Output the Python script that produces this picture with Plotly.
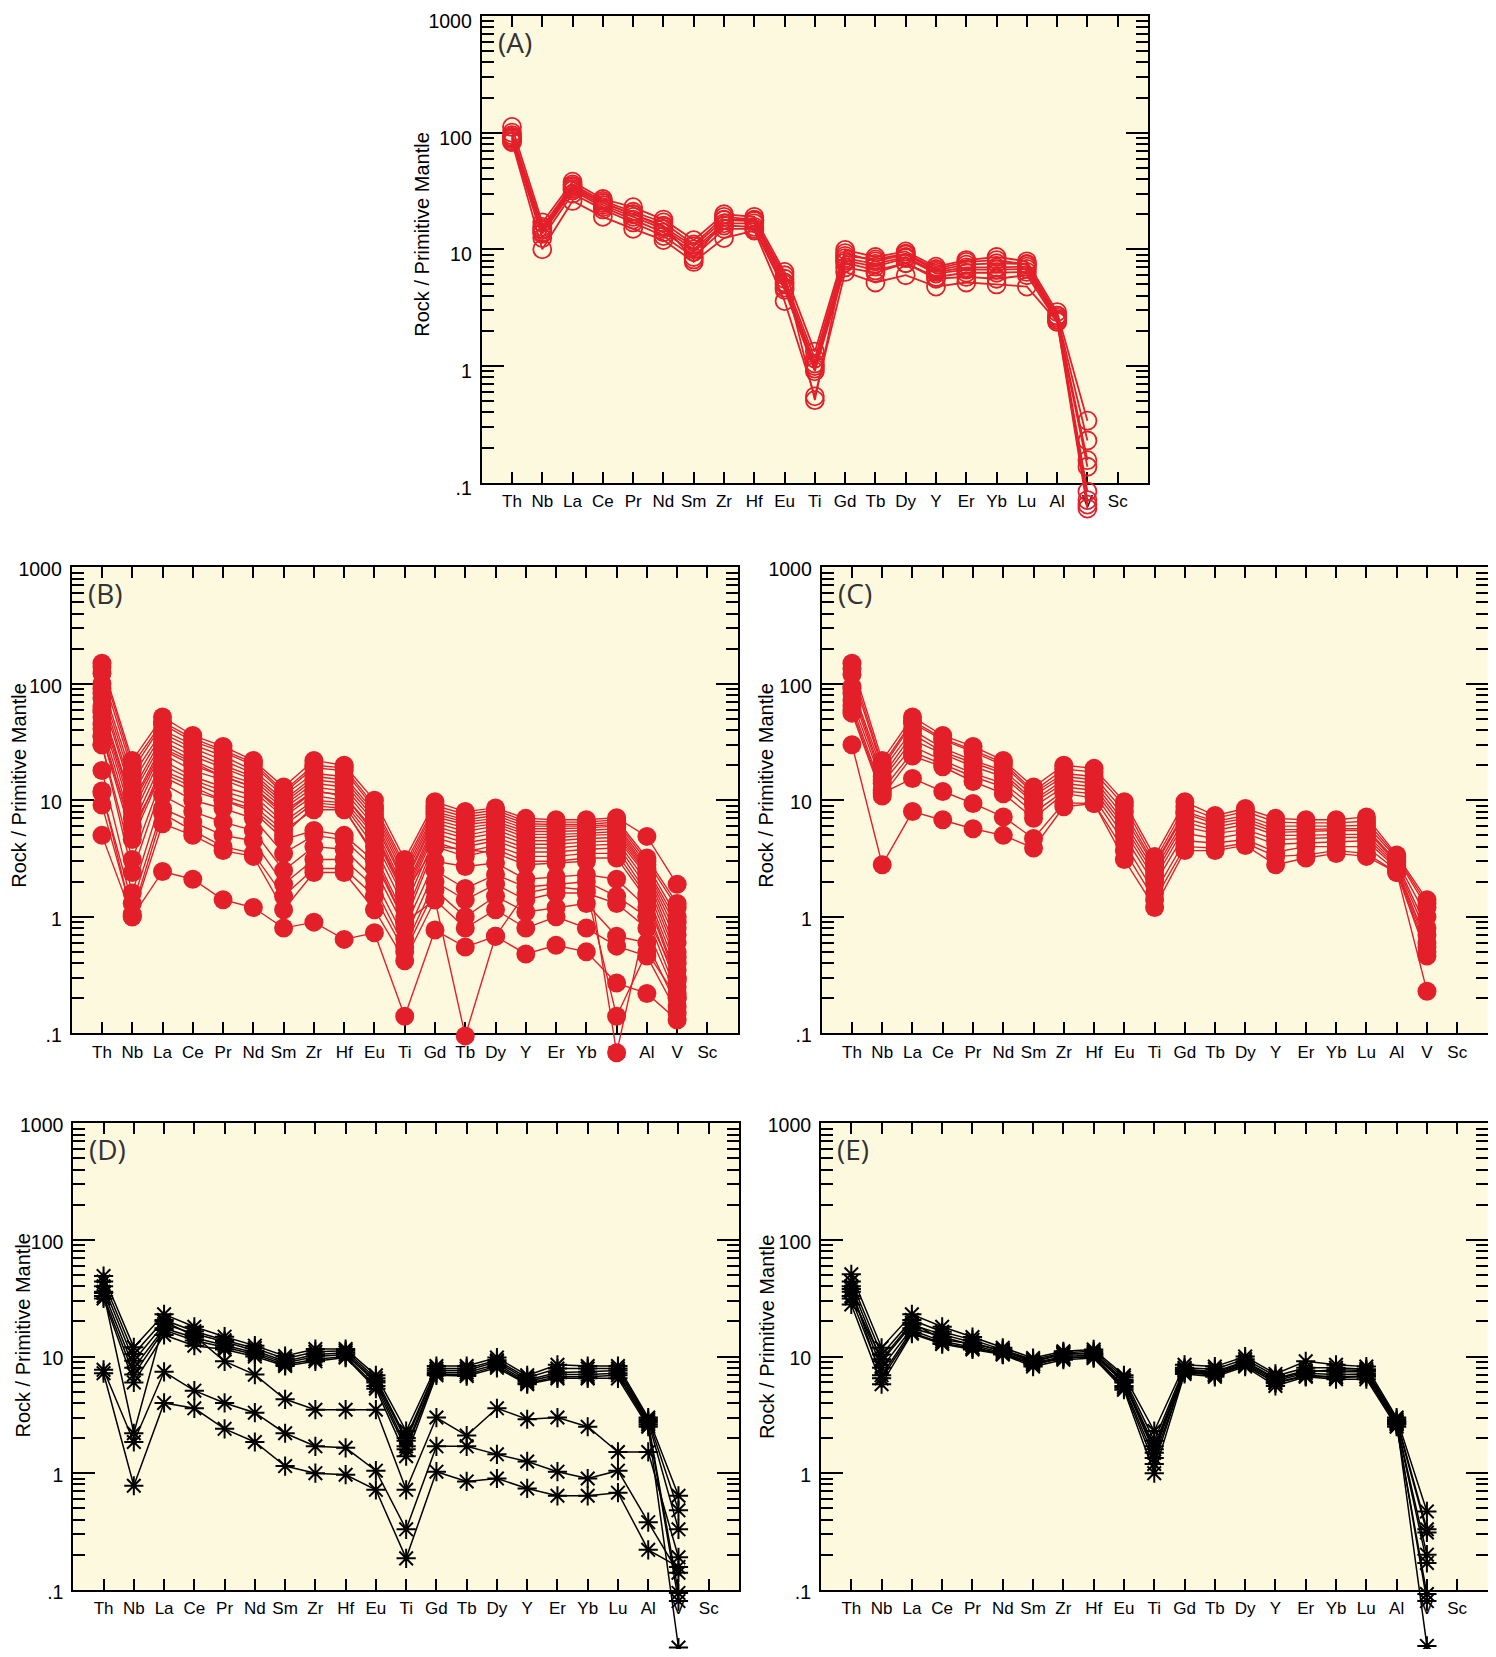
import plotly.graph_objects as go

# ---------------- data ----------------
elements = ["Th", "Nb", "La", "Ce", "Pr", "Nd", "Sm", "Zr", "Hf", "Eu", "Ti",
            "Gd", "Tb", "Dy", "Y", "Er", "Yb", "Lu", "Al", "V", "Sc"]
ytick_vals = [0.1, 1, 10, 100, 1000]
ytick_text = [".1", "1", "10", "100", "1000"]
y_title = "Rock / Primitive Mantle"
panel_labels = ["(A)", "(B)", "(C)", "(D)", "(E)"]

# values Th .. V (Sc not analysed)
panel_A = [
    [112, 17, 38, 27, 23, 18, 12, 20, 19, 6.4, 1.33, 9.9, 8.6, 9.6, 7.1, 8.1, 8.6, 7.9, 2.9, 0.34],
    [100, 15.6, 36, 26, 21, 17, 11, 19, 18, 5.6, 1.16, 9.3, 7.9, 9.0, 6.6, 7.4, 7.6, 7.5, 2.7, 0.23],
    [95, 14.6, 34, 25, 20, 15.6, 10.6, 17.8, 17.5, 5.2, 1.05, 8.4, 7.5, 8.6, 6.4, 7.0, 7.0, 7.1, 2.6, 0.156],
    [92, 14, 33, 24, 19, 15, 10, 16.7, 16.7, 5.0, 1.0, 8.0, 7.1, 8.4, 6.2, 6.7, 6.7, 6.8, 2.5, 0.137],
    [88, 13.6, 32, 23, 18, 14, 9.5, 16, 15.6, 4.7, 0.95, 7.7, 6.6, 7.6, 5.8, 6.3, 6.3, 6.4, 2.5, 0.084],
    [85, 12.5, 30, 22, 17, 13, 8.6, 15, 15, 4.5, 0.9, 7.0, 6.3, 7.6, 5.6, 5.8, 5.6, 6.0, 2.4, 0.071],
    [83, 10, 26, 19, 15, 12, 7.8, 12.5, 14.5, 3.6, 0.55, 6.4, 5.2, 6.0, 4.8, 5.2, 5.0, 4.8, 2.4, 0.06],
    [90, 15, 35, 25, 20, 16, 8.2, 18, 17.8, 6.0, 0.51, 8.8, 8.2, 9.2, 6.8, 7.8, 8.1, 7.4, 2.7, 0.065],
]

panel_B = [
    [150, 22, 52, 36, 29, 22, 13, 22, 20, 10, 3.1, 9.7, 8.0, 8.6, 7.0, 6.8, 6.8, 7.1, 4.9, 1.9],
    [140, 20, 47, 34, 27, 21, 12, 20, 19, 9.0, 2.8, 9.0, 7.6, 8.2, 6.6, 6.5, 6.5, 6.8, 3.2, 1.3],
    [123, 18, 45, 32, 26, 20, 11.5, 19, 18, 8.5, 2.6, 8.5, 7.2, 7.8, 6.3, 6.2, 6.2, 6.5, 3.0, 1.2],
    [100, 16, 40, 30, 24, 18, 11, 17, 16, 8.0, 2.4, 8.0, 6.8, 7.4, 6.0, 6.0, 6.0, 6.2, 2.8, 1.0],
    [91, 14, 37.5, 28, 22, 17, 10, 16, 15, 7.5, 2.2, 7.6, 6.5, 7.0, 5.7, 5.7, 5.8, 6.0, 2.6, 0.9],
    [83, 12, 35, 26, 20, 16, 9.5, 15, 14, 7.0, 2.0, 7.2, 6.2, 6.6, 5.4, 5.4, 5.5, 5.7, 2.5, 0.8],
    [75, 11, 32, 24, 19, 15, 9.0, 14, 13, 6.5, 1.9, 6.8, 5.8, 6.3, 5.1, 5.1, 5.2, 5.4, 2.4, 0.7],
    [64, 9.5, 30, 22, 17, 14, 8.5, 13, 12, 6.0, 1.7, 6.4, 5.4, 6.0, 4.8, 4.8, 5.0, 5.1, 2.3, 0.6],
    [57, 8, 27, 20, 16, 13, 8.0, 12, 11, 5.5, 1.6, 6.0, 5.0, 5.6, 4.5, 4.5, 4.7, 4.8, 2.2, 0.5],
    [52, 7, 25, 18, 15, 12, 7.2, 11, 10, 5.0, 1.5, 5.6, 4.7, 5.2, 4.2, 4.2, 4.4, 4.5, 2.0, 0.45],
    [45, 6, 22, 16, 13, 11, 6.5, 10, 9.5, 4.5, 1.4, 5.2, 4.3, 4.8, 3.9, 3.9, 4.1, 4.2, 1.8, 0.4],
    [41, 5, 20, 15, 12, 10, 6.0, 9.5, 9.0, 4.0, 1.2, 4.8, 4.0, 4.5, 3.6, 3.6, 3.8, 3.9, 1.6, 0.35],
    [36, 4.6, 18, 14, 11, 9, 5.5, 8.3, 8.3, 3.5, 1.0, 4.4, 3.6, 4.1, 3.3, 3.3, 3.5, 3.5, 1.5, 0.3],
    [30, 3.1, 16, 12, 10, 8, 4.6, 5.5, 5.0, 3.0, 0.9, 4.0, 3.3, 3.8, 3.0, 3.0, 3.2, 3.2, 1.4, 0.28],
    [30, 2.4, 14, 10, 8.5, 7, 3.5, 5.0, 4.6, 2.6, 0.8, 3.0, 2.7, 2.9, 2.1, 2.2, 2.3, 2.1, 1.2, 0.25],
    [18, 1.6, 11, 8, 6.5, 5.5, 2.5, 4.0, 3.8, 2.1, 0.65, 2.5, 1.75, 2.3, 1.8, 1.9, 2.0, 1.5, 1.0, 0.22],
    [11.6, 1.3, 8.5, 6.5, 5, 4.5, 1.9, 3.1, 3.1, 1.8, 0.55, 2.0, 1.4, 1.9, 1.4, 1.6, 1.6, 1.3, 0.8, 0.2],
    [9.1, 1.05, 7.7, 5.5, 4, 3.5, 1.5, 2.6, 2.6, 1.5, 0.5, 1.7, 1.0, 1.5, 1.1, 1.2, 1.3, 0.68, 0.6, 0.17],
    [12, 1.0, 6.3, 5, 3.7, 3.3, 1.15, 2.4, 2.4, 1.15, 0.42, 1.4, 0.8, 1.15, 0.8, 1.0, 0.8, 0.56, 0.46, 0.15],
    [5, 1.0, 2.45, 2.1, 1.4, 1.2, 0.8, 0.9, 0.64, 0.73, 0.14, 0.77, 0.55, 0.68, 0.48, 0.57, 0.5, 0.27, 0.22, 0.13],
    [35, 5.9, 17, 13, 10, 8.5, 5, 9, 8.5, 3.3, 0.9, 1.4, 0.095, 0.68, 1.6, 1.8, 1.7, 0.14, 0.5, 0.2],
    [60, 9, 28, 21, 16, 13, 7.5, 12, 11, 5.2, 1.6, 4.0, 3.8, 3.5, 2.8, 2.9, 3.0, 0.068, 1.0, 0.3],
]

panel_C = [
    [150, 22, 52, 36, 29, 22, 13, 20, 18.8, 9.7, 3.3, 9.7, 7.4, 8.5, 7.0, 6.8, 6.8, 7.2, 3.4, 1.4],
    [135, 20, 48, 34, 27, 21, 12, 18.5, 17.5, 9.0, 3.0, 8.8, 7.0, 8.0, 6.5, 6.4, 6.4, 6.6, 3.3, 1.3],
    [120, 19, 46, 33, 26, 20, 11.5, 17, 16, 8.0, 2.8, 8.0, 6.6, 7.4, 6.0, 6.0, 6.0, 6.1, 3.2, 1.2],
    [95, 18, 40, 28, 22, 18, 10.9, 16, 15, 7.2, 2.7, 7.7, 6.3, 7.0, 5.6, 5.6, 5.7, 5.7, 3.0, 1.0],
    [91, 16, 37, 26, 21, 17, 10, 15, 14, 6.5, 2.5, 7.0, 5.9, 6.6, 5.3, 5.4, 5.5, 5.5, 2.9, 0.8],
    [83, 15, 33, 25, 19.5, 16, 9.5, 14, 13, 6.0, 2.3, 6.5, 5.5, 6.2, 5.0, 5.0, 5.1, 5.1, 2.8, 0.7],
    [72, 14, 29, 22, 17, 14, 8.8, 13, 12.2, 5.5, 2.1, 5.9, 5.2, 5.6, 4.6, 4.7, 4.8, 4.8, 2.7, 0.6],
    [65, 12.2, 26, 20.5, 16, 13, 7.8, 12, 11.4, 4.9, 1.9, 5.2, 4.7, 5.2, 4.2, 4.3, 4.4, 4.5, 2.6, 0.55],
    [56, 10.9, 24, 19.4, 14.5, 11.4, 7.0, 11.4, 10.5, 4.3, 1.6, 4.5, 4.3, 4.6, 3.6, 4.0, 4.0, 4.0, 2.5, 0.5],
    [60, 11.5, 15.4, 11.9, 9.4, 7.2, 4.7, 9.5, 9.4, 3.7, 1.4, 4.0, 3.9, 4.3, 3.3, 3.4, 3.7, 3.5, 2.4, 0.46],
    [30, 2.8, 8.0, 6.8, 5.7, 5.0, 3.9, 8.8, 9.4, 3.1, 1.2, 3.7, 3.7, 4.1, 2.8, 3.2, 3.5, 3.3, 2.4, 0.23],
]

panel_D = [
    [49, 12, 23, 18, 14.8, 12.4, 10.1, 11.6, 11.6, 6.9, 2.3, 8.3, 8.3, 9.8, 6.9, 8.5, 8.3, 8.3, 3.0, 0.64],
    [44, 10.5, 20.6, 16.5, 13.8, 11.8, 9.6, 11.0, 11.2, 6.5, 2.0, 7.9, 7.9, 9.3, 6.6, 7.9, 7.9, 7.9, 2.9, 0.48],
    [40, 9.2, 19, 15.7, 13.4, 11.2, 9.1, 10.4, 10.8, 6.2, 1.9, 7.6, 7.6, 9.0, 6.3, 7.3, 7.4, 7.6, 2.8, 0.33],
    [36, 8, 17.5, 14.5, 12.5, 10.8, 8.8, 10.0, 10.4, 6.0, 1.7, 7.3, 7.3, 8.6, 6.1, 7.0, 7.0, 7.2, 2.7, 0.094],
    [33, 7, 16.9, 13.7, 12.0, 10.4, 8.5, 9.5, 10.0, 5.6, 1.6, 7.1, 7.0, 8.3, 5.9, 6.7, 6.7, 6.9, 2.6, 0.08],
    [31.5, 6, 15.3, 12.4, 11.5, 10.0, 8.3, 9.1, 9.8, 5.3, 1.4, 6.9, 6.8, 8.0, 5.8, 6.5, 6.5, 6.5, 2.5, 0.032],
    [35, 2.2, 20, 15, 9.1, 7.0, 4.3, 3.5, 3.5, 3.5, 0.72, 3.0, 2.1, 3.6, 2.9, 3.0, 2.5, 1.52, 1.52, 0.19],
    [7.7, 1.85, 7.4, 5.1, 4.0, 3.3, 2.2, 1.7, 1.65, 1.05, 0.33, 1.7, 1.7, 1.45, 1.26, 1.03, 0.9, 1.05, 0.38, 0.14],
    [7.2, 0.78, 4.0, 3.6, 2.4, 1.85, 1.15, 1.0, 0.97, 0.72, 0.186, 1.03, 0.85, 0.9, 0.74, 0.64, 0.64, 0.68, 0.22, 0.157],
]

panel_E = [
    [50.8, 11.9, 23, 18, 14.7, 11.9, 9.7, 11.1, 11.5, 6.9, 2.3, 8.5, 8.2, 10, 7.1, 9.1, 8.5, 8.2, 3.0, 0.47],
    [44, 10.4, 20.6, 16.3, 13.9, 11.5, 9.4, 10.8, 11.1, 6.6, 1.9, 8.0, 7.8, 9.5, 6.8, 8.0, 8.0, 7.8, 2.9, 0.33],
    [40, 9.1, 18.7, 15.5, 13.2, 11.1, 9.1, 10.4, 10.7, 6.3, 1.7, 7.8, 7.4, 9.1, 6.5, 7.6, 7.4, 7.4, 2.8, 0.31],
    [36, 8, 17.5, 14.7, 12.5, 10.8, 8.8, 10.0, 10.3, 6.0, 1.5, 7.6, 7.1, 8.7, 6.2, 7.2, 7.0, 7.1, 2.7, 0.2],
    [31.5, 6.9, 16.8, 13.5, 12.0, 10.6, 8.5, 9.7, 10.0, 5.6, 1.35, 7.3, 6.9, 8.4, 6.0, 6.9, 6.7, 6.8, 2.65, 0.17],
    [28, 5.8, 15.7, 12.8, 11.5, 10.4, 8.2, 9.4, 9.7, 5.2, 1.0, 7.1, 6.7, 8.2, 5.6, 6.7, 6.4, 6.4, 2.5, 0.092],
    [38, 6.5, 16, 13, 11.8, 10.5, 8.6, 9.8, 9.9, 5.4, 1.2, 7.4, 7.0, 8.5, 5.9, 6.8, 6.6, 6.7, 2.6, 0.08],
    [33, 9.5, 19.5, 14, 12.8, 11.3, 9.0, 10.6, 10.5, 6.1, 1.6, 7.7, 7.3, 8.9, 6.4, 7.4, 7.7, 7.6, 2.75, 0.033],
]

# ---------------- style ----------------
RED = "#E3202A"
BG = "#FDF9DE"
OFF = 8                     # default page body margin
W, H = 1496 - 2 * OFF, 1657 - 2 * OFF
FONT = "Liberation Sans, Arial, Helvetica, sans-serif"

# panel boxes in page pixels: left, right, top, bottom, extension below for marks
boxes = {
    "A": (481.7, 1148.0, 16.0, 482.7, 50),
    "B": (71.7, 737.7, 567.3, 1033.3, 45),
    "C": (821.7, 1487.5, 567.3, 1033.3, 45),
    "D": (73.3, 739.0, 1123.3, 1589.8, 60),
    "E": (821.0, 1487.5, 1123.3, 1589.8, 60),
}
# small downward nudge of the y tick labels (positive = down here)
label_shift = {"A": 5, "B": 2, "C": 2, "D": 2, "E": 2}
title_pos = {  # y-axis title centre (page px)
    "A": (421.7, 234.0),
    "B": (19.0, 785.7),
    "C": (766.0, 785.7),
    "D": (22.5, 1335.0),
    "E": (767.3, 1336.8),
}


def clamp(v):
    return min(1.0, max(0.0, v))


def px_x(p):
    return clamp((p - OFF) / W)


def px_y(p):
    return clamp(1 - (p - OFF) / H)


minor_vals = [m * 10 ** k for k in range(-1, 3) for m in range(2, 10)]
xpos = list(range(len(elements)))

fig = go.Figure()
panels = [("A", panel_A), ("B", panel_B), ("C", panel_C), ("D", panel_D), ("E", panel_E)]
npan = len(panels)
shapes = []

# empty placeholder traces so that each framed subplot is drawn
for i in range(npan):
    n = i + 1
    fig.add_trace(go.Scatter(x=[None], y=[None], mode="markers",
                             xaxis="x" if n == 1 else f"x{n}",
                             yaxis="y" if n == 1 else f"y{n}",
                             showlegend=False, hoverinfo="skip"))

for i, (name, data) in enumerate(panels):
    n = i + 1
    m = n + npan            # overlay subplot holding the data
    key = "" if n == 1 else str(n)
    xa = "x" if n == 1 else f"x{n}"
    ya = "y" if n == 1 else f"y{n}"
    xo, yo = f"x{m}", f"y{m}"

    l, r, t, b, ext = boxes[name]
    ext = min(ext, (H + OFF) - b)
    dec = (b - t) / 4.0

    for row in data:
        xs = [elements.index(e) for e in elements[:len(row)]]
        if name == "A":
            marker = dict(symbol="circle-open", size=18, color=RED, line=dict(width=1.8, color=RED))
            line = dict(color=RED, width=1.8)
        elif name in ("B", "C"):
            marker = dict(symbol="circle", size=19, color=RED, line=dict(width=0))
            line = dict(color=RED, width=1.4)
        else:
            marker = dict(symbol="asterisk-open", size=16, color="black", line=dict(width=2, color="black"))
            line = dict(color="black", width=1.5)
        fig.add_trace(go.Scatter(x=xs, y=row, mode="lines+markers", xaxis=xo, yaxis=yo,
                                 marker=marker, line=line, cliponaxis=False,
                                 showlegend=False, hoverinfo="skip"))

    # visible frame, ticks and labels
    fig.layout["xaxis" + key] = dict(
        visible=True, automargin=False, domain=[px_x(l), px_x(r)], anchor=ya, range=[-1, 21],
        tickmode="array", tickvals=xpos, ticktext=elements,
        ticks="inside", ticklen=11, tickwidth=2, tickcolor="black",
        showline=True, linewidth=2, linecolor="black", mirror="ticks",
        showgrid=False, zeroline=False, ticklabeloverflow="allow",
        tickfont=dict(family=FONT, size=17, color="black"),
        ticklabelstandoff=2,
    )
    fig.layout["yaxis" + key] = dict(
        visible=True, automargin=False, domain=[px_y(b), px_y(t)], anchor=xa, type="log", range=[-1, 3],
        tickmode="array", tickvals=ytick_vals, ticktext=ytick_text,
        ticks="inside", ticklen=22, tickwidth=2, tickcolor="black",
        minor=dict(tickmode="array", tickvals=minor_vals, ticks="inside", ticklen=12,
                   tickwidth=2, tickcolor="black", showgrid=False),
        showline=True, linewidth=2, linecolor="black", mirror="ticks",
        showgrid=False, zeroline=False, ticklabeloverflow="allow",
        tickfont=dict(family=FONT, size=19.5, color="black"),
        ticklabelstandoff=4, ticklabelshift=label_shift[name],
    )
    # invisible data subplot, same scale, extended below the frame
    fig.layout[f"xaxis{m}"] = dict(domain=[px_x(l), px_x(r)], anchor=yo, range=[-1, 21],
                                   visible=False, automargin=False, showgrid=False, zeroline=False)
    fig.layout[f"yaxis{m}"] = dict(domain=[px_y(b + ext), px_y(t)], anchor=xo, type="log",
                                   range=[-1 - ext / dec, 3],
                                   visible=False, automargin=False, showgrid=False, zeroline=False)

    shapes.append(dict(type="rect", xref="paper", yref="paper", layer="below",
                       x0=px_x(l), x1=px_x(r), y0=px_y(b), y1=px_y(t),
                       fillcolor=BG, line=dict(width=0)))

    tx, ty = title_pos[name]
    fig.add_annotation(text=y_title, x=px_x(tx), y=px_y(ty), xref="paper", yref="paper",
                       xanchor="center", yanchor="middle", textangle=-90, showarrow=False,
                       font=dict(family=FONT, size=20, color="black"))
    fig.add_annotation(text=panel_labels[i], x=px_x(l + 14), y=px_y(t + 26), xref="paper", yref="paper",
                       xanchor="left", yanchor="middle", showarrow=False,
                       font=dict(family="Open Sans, Noto Sans, sans-serif", size=28, color="#333333"))

fig.update_layout(
    width=W, height=H, autosize=False,
    margin=dict(l=0, r=0, t=0, b=0, autoexpand=False),
    paper_bgcolor="white", plot_bgcolor="rgba(0,0,0,0)",
    shapes=shapes,
)

fig.write_html("out.html")
